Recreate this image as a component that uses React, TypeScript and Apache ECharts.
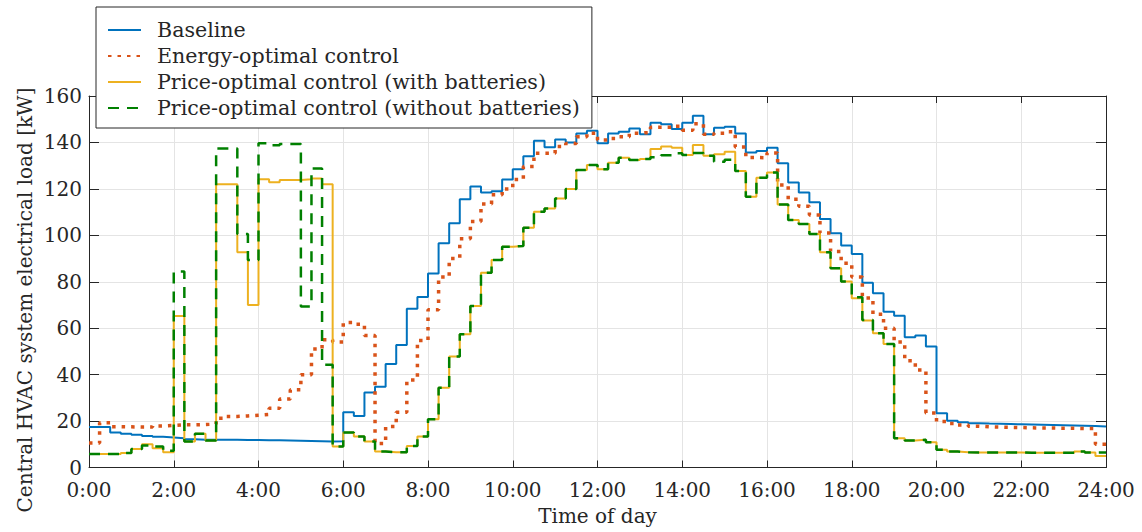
import React, { useEffect, useRef } from "react";
import * as echarts from "echarts";

// Time step of the data: 15 minutes (0.25 h), 96 steps per day
const STEP_HOURS = 0.25;

// x tick positions (hours) and y tick positions (kW)
const hourTicks = [0, 2, 4, 6, 8, 10, 12, 14, 16, 18, 20, 22, 24];
const loadTicks = [0, 20, 40, 60, 80, 100, 120, 140, 160];

const seriesNames = [
  "Baseline",
  "Energy-optimal control",
  "Price-optimal control (with batteries)",
  "Price-optimal control (without batteries)",
];

// Baseline
const baseline = [
  17.4, 17.4, 15.1, 14.5, 14.1, 13.6, 13.2, 12.9,
  12.6, 12.2, 12.0, 11.9, 11.9, 11.9, 11.8, 11.8,
  11.7, 11.7, 11.6, 11.5, 11.4, 11.3, 11.2, 11.3,
  23.8, 22.2, 32.3, 34.8, 44.6, 52.8, 68.4, 73.4,
  83.6, 96.6, 105.2, 115.5, 121.0, 118.4, 119.0, 124.0,
  128.5, 134.0, 140.7, 137.9, 141.3, 140.0, 143.9, 145.0,
  139.6, 143.9, 144.6, 146.0, 143.5, 148.5, 147.8, 145.8,
  148.5, 151.5, 143.5, 146.3, 146.8, 143.9, 135.7, 136.3,
  137.7, 131.0, 122.7, 118.4, 114.2, 107.0, 100.9, 95.6,
  92.0, 79.6, 75.0, 67.1, 65.4, 56.1, 56.8, 52.1,
  23.4, 20.1, 19.5, 19.1, 18.9, 18.8, 18.7, 18.6,
  18.5, 18.4, 18.3, 18.2, 18.1, 18.0, 17.9, 17.7,
];

// Energy-optimal control
const energyOptimal = [
  10.5, 19.3, 17.6, 17.5, 17.4, 17.4, 17.9, 18.1,
  18.4, 18.4, 18.5, 18.7, 21.2, 22.0, 22.2, 22.5,
  22.8, 25.5, 29.5, 33.5, 40.0, 51.0, 55.0, 54.0,
  62.4, 61.7, 56.8, 10.3, 17.7, 23.8, 37.7, 54.7,
  67.9, 82.0, 90.0, 98.5, 106.0, 113.5, 117.5, 120.0,
  124.0, 129.6, 135.3, 135.3, 138.2, 139.5, 142.5, 144.0,
  141.0, 141.7, 142.4, 144.0, 144.3, 146.5, 146.5, 147.0,
  145.3, 148.0, 143.5, 144.0, 144.6, 138.0, 133.5, 133.4,
  135.5, 121.7, 115.5, 112.5, 108.8, 101.0, 93.0, 88.0,
  82.0, 73.0, 66.0, 60.0, 54.0, 46.0, 42.0, 23.5,
  19.8, 19.0, 18.3, 17.8, 17.5, 17.4, 17.3, 17.2,
  17.1, 17.0, 17.0, 16.9, 16.9, 16.8, 16.8, 10.0,
];

// Price-optimal control (with batteries)
const priceWithBatteries = [
  5.8, 5.8, 5.8, 6.2, 8.0, 10.0, 8.3, 6.6,
  65.3, 11.2, 14.5, 11.6, 122.0, 122.0, 92.7, 70.0,
  124.1, 122.8, 123.8, 123.8, 124.1, 124.5, 122.0, 9.0,
  15.1, 13.3, 11.2, 6.9, 6.6, 6.6, 9.3, 13.3,
  20.8, 34.4, 47.8, 57.4, 69.6, 83.9, 89.4, 95.1,
  95.4, 103.3, 110.2, 111.6, 115.9, 119.9, 128.1, 130.3,
  128.4, 131.3, 133.4, 132.4, 132.9, 137.2, 138.2, 137.7,
  134.6, 138.9, 134.3, 134.9, 136.0, 127.7, 116.6, 124.8,
  127.1, 113.3, 106.6, 104.9, 100.6, 92.7, 85.8, 80.1,
  72.9, 63.3, 57.8, 53.2, 12.6, 11.6, 11.9, 10.9,
  7.6, 6.9, 6.6, 6.5, 6.5, 6.5, 6.5, 6.5,
  6.4, 6.4, 6.4, 6.3, 6.3, 6.9, 6.5, 5.0,
];

// Price-optimal control (without batteries)
const priceWithoutBatteries = [
  5.8, 5.8, 5.8, 6.2, 8.0, 9.5, 9.0, 7.2,
  84.4, 11.2, 14.5, 11.6, 137.4, 137.4, 100.6, 89.4,
  139.6, 138.8, 139.3, 139.3, 69.3, 128.8, 44.2, 9.0,
  15.1, 13.3, 11.2, 6.9, 6.6, 6.6, 9.3, 13.3,
  20.8, 34.4, 47.8, 57.4, 69.6, 83.9, 89.4, 95.1,
  95.4, 103.3, 110.2, 111.6, 115.9, 119.9, 128.1, 130.3,
  128.4, 131.3, 133.4, 132.4, 132.9, 133.6, 134.5, 135.3,
  134.6, 135.5, 134.3, 131.7, 132.5, 127.7, 116.6, 124.8,
  127.1, 113.3, 106.6, 104.9, 100.6, 92.7, 85.8, 80.1,
  73.3, 63.5, 57.8, 53.2, 12.6, 11.6, 11.9, 10.9,
  7.6, 6.9, 6.6, 6.5, 6.5, 6.5, 6.5, 6.5,
  6.4, 6.4, 6.4, 6.3, 6.3, 6.9, 6.5, 6.5,
];

const FONT = "'DejaVu Serif', 'Liberation Serif', serif";
const INK = "#262626";
const GRID = "#e4e4e4";

function toSteps(values: number[]): number[][] {
  const pts = values.map((v, i) => [i * STEP_HOURS, v]);
  pts.push([values.length * STEP_HOURS, values[values.length - 1]]);
  return pts;
}

export default function App() {
  const ref = useRef<HTMLDivElement>(null);

  useEffect(() => {
    if (!ref.current) return;
    const chart = echarts.init(ref.current, undefined, { renderer: "svg" });

    const xMin = hourTicks[0];
    const xMax = hourTicks[hourTicks.length - 1];
    const xInt = hourTicks[1] - hourTicks[0];
    const yMin = loadTicks[0];
    const yMax = loadTicks[loadTicks.length - 1];
    const yInt = loadTicks[1] - loadTicks[0];

    const baseAxisLine = { show: true, onZero: false, lineStyle: { color: INK, width: 1 } };

    const option: any = {
      animation: false,
      textStyle: { fontFamily: FONT },
      grid: { left: 89, top: 96, right: 36, bottom: 64.5, containLabel: false },
      legend: {
        show: true,
        orient: "vertical",
        left: 96,
        top: 7,
        padding: [10, 12, 7, 11],
        itemGap: 0,
        itemWidth: 33,
        itemHeight: 14,
        backgroundColor: "#ffffff",
        borderColor: INK,
        borderWidth: 1,
        borderRadius: 0,
        itemStyle: { opacity: 0 },
        data: seriesNames,
        textStyle: {
          fontFamily: FONT,
          fontSize: 20.6,
          color: INK,
          lineHeight: 26,
          padding: [0, 0, 0, 11],
        },
      },
      xAxis: [
        {
          type: "value",
          min: xMin,
          max: xMax,
          interval: xInt,
          axisLine: baseAxisLine,
          axisTick: { show: true, inside: true, length: 7, lineStyle: { color: INK } },
          axisLabel: {
            formatter: (v: number) => `${v}:00`,
            color: INK,
            fontFamily: FONT,
            fontSize: 20,
            margin: 12,
          },
          splitLine: { show: true, lineStyle: { color: GRID, width: 1 } },
          name: "Time of day",
          nameLocation: "middle",
          nameGap: 38,
          nameTextStyle: { color: INK, fontFamily: FONT, fontSize: 20 },
        },
        {
          type: "value",
          position: "top",
          min: xMin,
          max: xMax,
          interval: xInt,
          axisLine: baseAxisLine,
          axisTick: { show: true, inside: true, length: 7, lineStyle: { color: INK } },
          axisLabel: { show: false },
          splitLine: { show: false },
        },
      ],
      yAxis: [
        {
          type: "value",
          min: yMin,
          max: yMax,
          interval: yInt,
          axisLine: baseAxisLine,
          axisTick: { show: true, inside: true, length: 10, lineStyle: { color: INK } },
          axisLabel: { color: INK, fontFamily: FONT, fontSize: 20, margin: 7 },
          splitLine: { show: true, lineStyle: { color: GRID, width: 1 } },
        },
        {
          type: "value",
          position: "right",
          min: yMin,
          max: yMax,
          interval: yInt,
          axisLine: baseAxisLine,
          axisTick: { show: true, inside: true, length: 10, lineStyle: { color: INK } },
          axisLabel: { show: false },
          splitLine: { show: false },
        },
      ],
      graphic: [
        {
          type: "text",
          x: 25,
          y: 300,
          rotation: Math.PI / 2,
          style: {
            text: "Central HVAC system electrical load [kW]",
            fontFamily: FONT,
            fontSize: 20,
            fill: INK,
            align: "center",
            verticalAlign: "middle",
          },
        },
      ],
      series: [
        {
          name: seriesNames[0],
          type: "line",
          step: "end",
          symbol: "none",
          data: toSteps(baseline),
          lineStyle: { color: "#0072BD", width: 2 },
          itemStyle: { color: "#0072BD" },
          z: 2,
        },
        {
          name: seriesNames[1],
          type: "line",
          step: "end",
          symbol: "none",
          data: toSteps(energyOptimal),
          lineStyle: { color: "#D95319", width: 3.5, type: [3.5, 6], cap: "butt" },
          itemStyle: { color: "#D95319" },
          z: 3,
        },
        {
          name: seriesNames[2],
          type: "line",
          step: "end",
          symbol: "none",
          data: toSteps(priceWithBatteries),
          lineStyle: { color: "#EDB120", width: 2 },
          itemStyle: { color: "#EDB120" },
          z: 4,
        },
        {
          name: seriesNames[3],
          type: "line",
          step: "end",
          symbol: "none",
          data: toSteps(priceWithoutBatteries),
          lineStyle: { color: "#008000", width: 2.5, type: [11, 8] },
          itemStyle: { color: "#008000" },
          z: 5,
        },
      ],
    };

    chart.setOption(option);
    return () => {
      chart.dispose();
    };
  }, []);

  return (
    <div
      ref={ref}
      style={{ position: "fixed", left: 0, top: 0, width: 1142, height: 532, background: "#ffffff" }}
    />
  );
}
